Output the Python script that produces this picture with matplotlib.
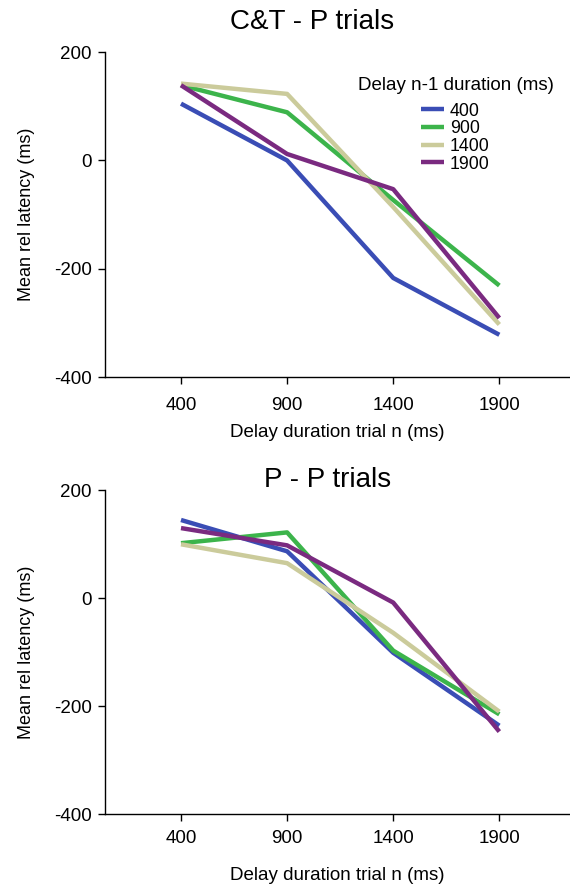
import matplotlib
matplotlib.use("Agg")
import matplotlib.pyplot as plt

plt.rcParams['font.family'] = ['Liberation Sans', 'DejaVu Sans']
plt.rcParams['axes.unicode_minus'] = False

# delay of trial n (x axis)
delays = [400, 900, 1400, 1900]
prev_labels = ['400', '900', '1400', '1900']
colors = ['#3a4db5', '#3cb44b', '#cbcb9b', '#7a2a80']

# C&T - P trials, one list per delay n-1
ctp_400 = [105, 0, -217, -322]
ctp_900 = [139, 89, -73, -231]
ctp_1400 = [142, 123, -86, -303]
ctp_1900 = [139, 12, -53, -291]

# P - P trials
pp_400 = [145, 87, -101, -236]
pp_900 = [102, 122, -97, -215]
pp_1400 = [100, 65, -64, -210]
pp_1900 = [130, 98, -8, -247]

fig = plt.figure(figsize=(5.7, 8.85), dpi=100)
ax1 = fig.add_axes([0.185, 0.574, 0.815, 0.367])
ax2 = fig.add_axes([0.185, 0.080, 0.815, 0.366])


def style(ax, xpad, xlab):
    ax.set_xlim(44, 2233)
    ax.set_ylim(-400, 200)
    ax.set_xticks(delays)
    ax.set_yticks([-400, -200, 0, 200])
    for s in ['top', 'right']:
        ax.spines[s].set_visible(False)
    for s in ['left', 'bottom']:
        ax.spines[s].set_linewidth(1.0)
    ax.tick_params(direction='out', length=5, width=1, labelsize=13.5, pad=5)
    ax.tick_params(axis='x', pad=xpad)
    ax.set_ylabel('Mean rel latency (ms)', fontsize=13)
    ax.yaxis.set_label_coords(-0.152, 0.5)
    ax.set_xlabel('Delay duration trial n (ms)', fontsize=13.5, labelpad=xlab)


series1 = [ctp_400, ctp_900, ctp_1400, ctp_1900]
series2 = [pp_400, pp_900, pp_1400, pp_1900]
lines = []
for vals, c, lab in zip(series1, colors, prev_labels):
    ln, = ax1.plot(delays, vals, color=c, lw=3.2, label=lab, solid_capstyle='butt')
    lines.append(ln)
for vals, c in zip(series2, colors):
    ax2.plot(delays, vals, color=c, lw=3.2, solid_capstyle='butt')

style(ax1, 9.3, 7)
style(ax2, 6.5, 14.5)

fig.text(0.548, 0.975, 'C&T - P trials', ha='center', va='center', fontsize=20)
fig.text(0.574, 0.458, 'P - P trials', ha='center', va='center', fontsize=20)

ax1.text(0.543, 0.898, 'Delay n-1 duration (ms)', transform=ax1.transAxes,
         fontsize=13.5, ha='left', va='center')
ax1.legend(handles=lines, loc='upper left', bbox_to_anchor=(0.68, 0.845),
           frameon=False, fontsize=12.8, labelspacing=0.04, handlelength=1.3,
           handletextpad=0.3, borderpad=0, borderaxespad=0)

fig.savefig('out.png', dpi=100)
